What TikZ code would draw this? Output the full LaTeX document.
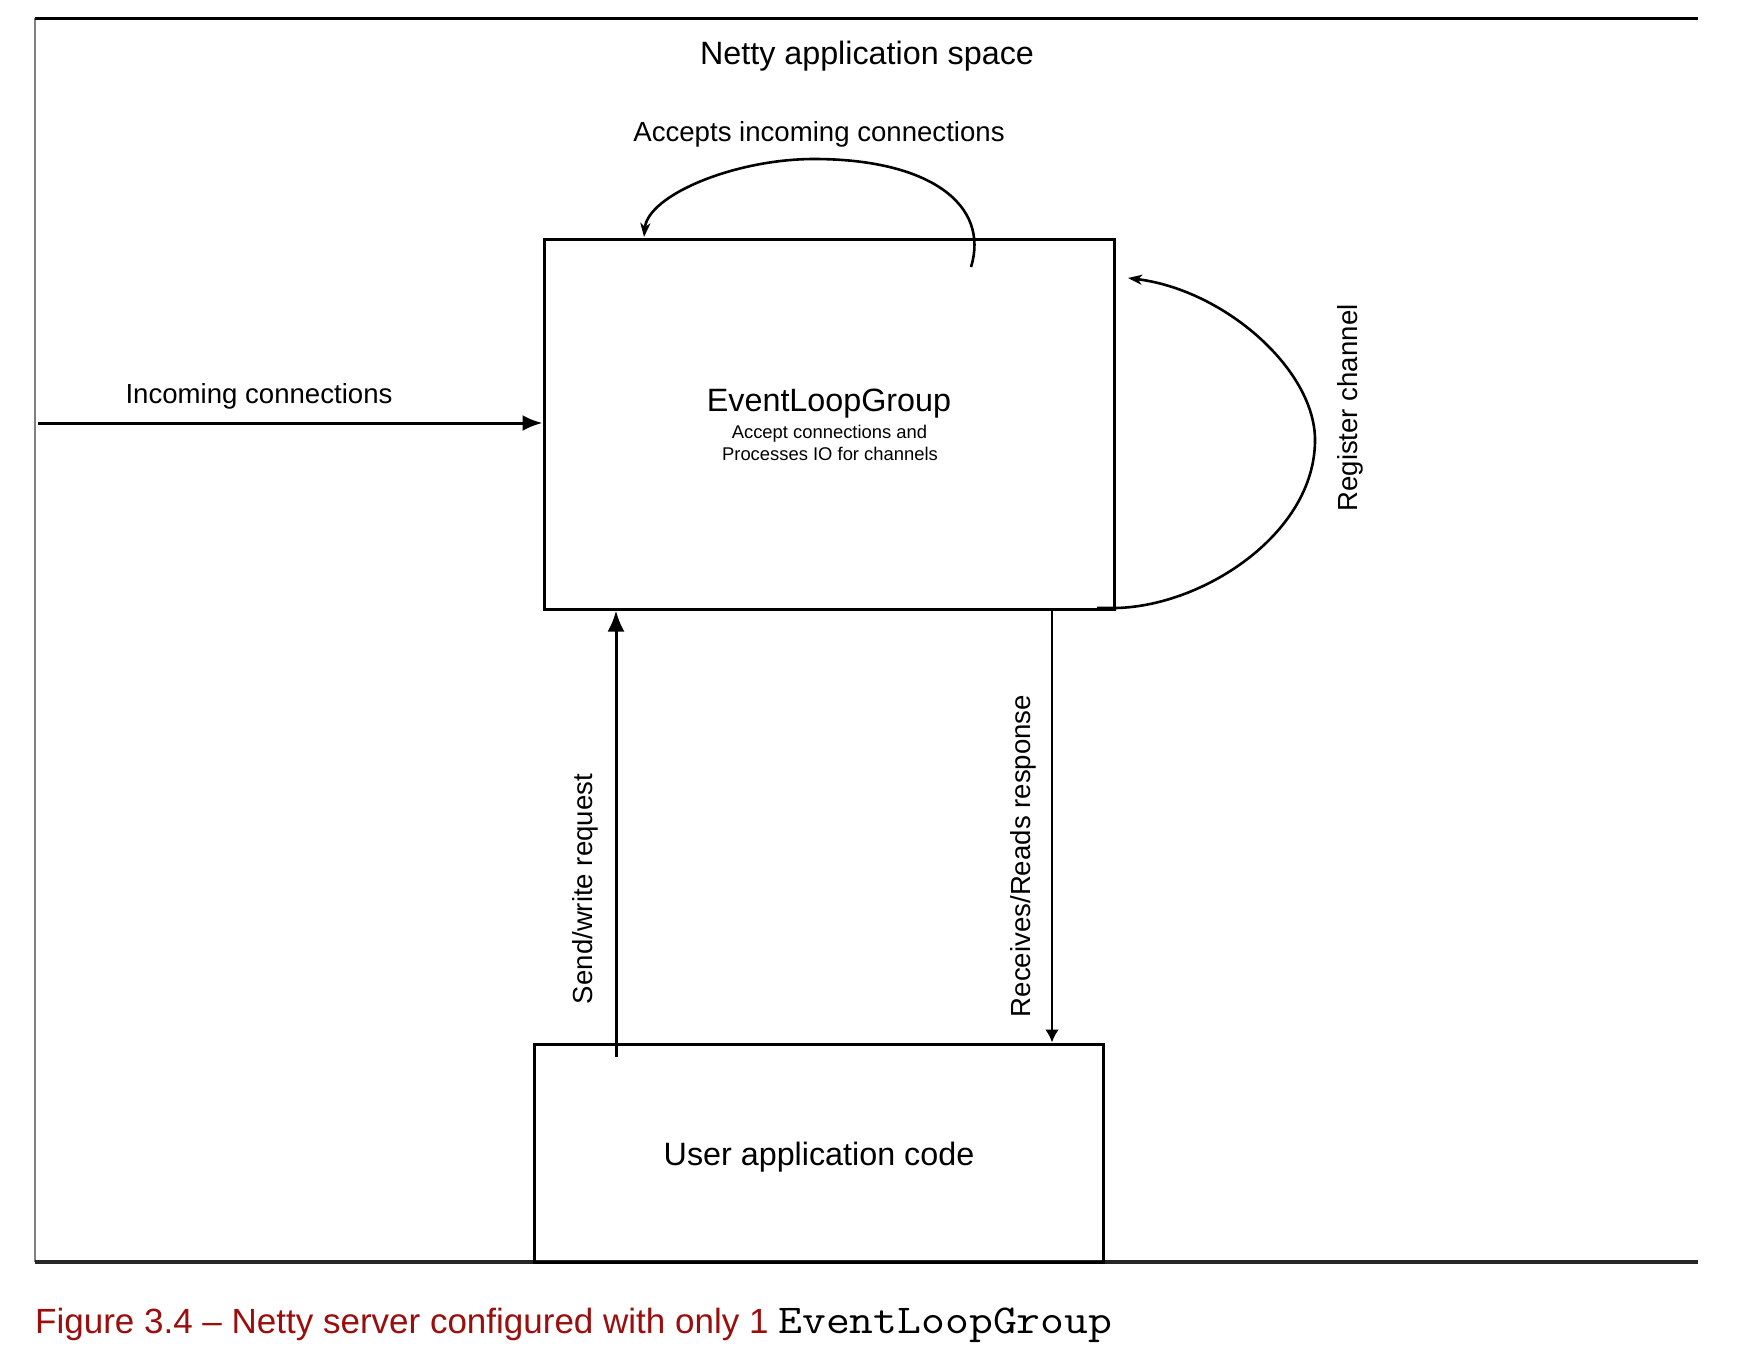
\documentclass[tikz,border=0pt]{standalone}
\usepackage{fontspec}
\setmainfont{Liberation Sans}
\usetikzlibrary{arrows.meta}
\definecolor{capred}{RGB}{155,14,14}
\begin{document}
\begin{tikzpicture}[x=1pt,y=-1pt,
  box/.style={draw=black, line width=3pt, minimum width=#1, inner sep=0pt},
  lbl/.style={inner sep=0pt, anchor=base, font=\fontsize{27.6}{33}\selectfont},
  big/.style={inner sep=0pt, anchor=base, font=\fontsize{32.3}{38}\selectfont},
  small/.style={inner sep=0pt, anchor=base, font=\fontsize{18.4}{22}\selectfont},
  conn/.style={line width=3pt},
  curv/.style={line width=2.6pt, -{Stealth[length=14pt,width=10pt,inset=4pt]}}
]
\useasboundingbox (0,0) rectangle (1752,1352);
% frame
\draw[line width=2pt, black!50] (35,18) -- (35,1262);
\draw[line width=3pt] (35,18) -- (1698,18);
\draw[line width=3.5pt, black!85] (35,1262) -- (1698,1262);

\node[big] (title) at (867,64) {Netty application space};

% boxes
\node[box=570pt, minimum height=370pt] (elg) at (829,424) {};
\node[box=569pt, minimum height=218pt] (uac) at (818.5,1153) {};

\node[big] (elgname) at (829,411.5) {EventLoopGroup};
\node[small] (elgl1) at (829.5,438) {Accept connections and};
\node[small] (elgl2) at (830,460.5) {Processes IO for channels};
\node[big] (uacname) at (819,1165) {User application code};

% accepts loop
\coordinate (accS) at (971,267);
\coordinate (accT) at (814,159);
\coordinate (accE) at (644,237);
\draw[curv] (accS) .. controls (990,205) and (930,159) .. (accT)
  .. controls (735,159) and (648,195) .. (accE);
\node[lbl] (acclbl) at (819,141.5) {Accepts incoming connections};

% incoming
\coordinate (inS) at (38,423);
\draw[conn, -{Latex[length=20pt,width=16pt]}] (inS) -- (inS -| elg.west);
\node[lbl] (inlbl) at (259,403) {Incoming connections};

% register channel loop
\coordinate (regS) at (1097,608);
\coordinate (regM) at (1315,440);
\coordinate (regE) at (1128,278);
\draw[curv] (regS) -- (1113,608) .. controls (1200,608) and (1315,535) .. (regM)
  .. controls (1315,370) and (1225,290) .. (regE);
\node[lbl, rotate=90] (reglbl) at (1357,408) {Register channel};

% send/write
\coordinate (sendS) at (616,1057);
\draw[conn, -{Latex[length=21pt,width=17pt]}] (sendS) -- (sendS |- elg.south);
\node[lbl, rotate=90] (sendlbl) at (592,889) {Send/write request};

% receives
\coordinate (recvS) at (1052,609);
\draw[line width=2.6pt, -{Latex[length=13pt,width=14pt]}] (recvS) -- (recvS |- uac.north);
\node[lbl, rotate=90] (recvlbl) at (1030,856) {Receives/Reads response};

% caption
\node[inner sep=0pt, anchor=base west, font=\fontsize{35}{40}\selectfont] (cap) at (35,1333)
  {\textcolor{capred}{Figure 3.4 -- Netty server configured with only 1} \scalebox{1.13}[1]{\ttfamily\fontsize{41}{41}\selectfont EventLoopGroup}};
\end{tikzpicture}
\end{document}
